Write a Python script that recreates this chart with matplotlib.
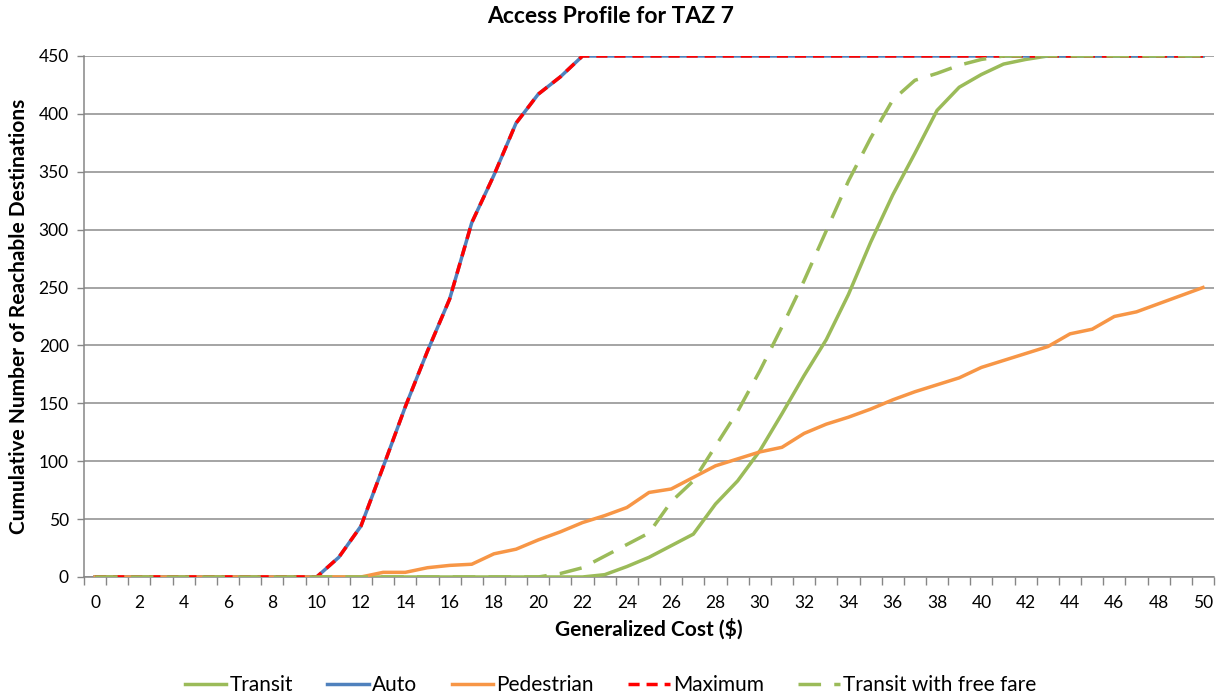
import numpy as np
import matplotlib
matplotlib.use('Agg')
import matplotlib.pyplot as plt

# Data.
cost = list(range(0, 51))
transit = [0]*23 + [2, 9, 17, 27, 37, 63, 83, 109, 141, 174, 205, 244, 289, 330, 366, 403,
                    423, 434, 443, 447] + [450]*8
auto = [0]*11 + [17, 44, 95, 147, 195, 240, 306, 347, 392, 417, 432] + [450]*29
pedestrian = [0]*13 + [4, 4, 8, 10, 11, 20, 24, 32, 39, 47, 53, 60, 73, 76, 86, 96, 102,
                       108, 112, 124, 132, 138, 145, 153, 160, 166, 172, 181, 187, 193,
                       199, 210, 214, 225, 229, 236, 243, 250]
maximum = [max(a, b, c) for a, b, c in zip(transit, auto, pedestrian)]
free_fare = [0]*21 + [3, 8, 18, 28, 38, 65, 83, 113, 143, 178, 216, 256, 299, 342, 379,
                      412, 429, 435, 442, 447] + [450]*10

plt.rcParams['font.family'] = ['Lato', 'DejaVu Sans']

fig = plt.figure(figsize=(12.21, 6.97), dpi=100)
ax = fig.add_axes([0.0688, 0.1722, 0.9255, 0.7475])

green = '#9BBB59'
lw = 2.5
ax.plot(cost, transit, color=green, lw=lw, label='Transit', zorder=3)
ax.plot(cost, auto, color='#4F81BD', lw=lw, label='Auto', zorder=3)
ax.plot(cost, pedestrian, color='#F79646', lw=lw, label='Pedestrian', zorder=3)
ax.plot(cost, maximum, color='#FF0000', lw=lw, ls=(0, (3.2, 2.0)), label='Maximum', zorder=4)
ax.plot(cost, free_fare, color=green, lw=lw, ls=(0, (6.5, 3.8)), label='Transit with free fare', zorder=5)

ax.set_xlim(-0.5, 50.5)
ax.set_ylim(0, 450)
ax.set_yticks(np.arange(0, 451, 50))
ax.set_xticks(np.arange(0, 51, 2))
ax.set_xticks(np.arange(-0.5, 51, 1), minor=True)
ax.tick_params(axis='x', which='major', length=0, pad=13, labelsize=12.5)
ax.tick_params(axis='x', which='minor', length=6, width=1, color='#868686', direction='out')
ax.tick_params(axis='y', length=5, width=1, color='#868686', labelsize=12.5, pad=6)

ax.grid(axis='y', color='#8C8C8C', lw=1.1, zorder=0)
ax.set_axisbelow(True)
for s in ['top', 'right']:
    ax.spines[s].set_visible(False)
ax.spines['left'].set_color('#868686')
ax.spines['bottom'].set_color('#868686')
ax.spines['left'].set_linewidth(1.1)
ax.spines['bottom'].set_linewidth(1.1)

ax.set_xlabel('Generalized Cost (\\$)', fontsize=15, fontweight='bold', labelpad=5)
ax.set_ylabel('Cumulative Number of Reachable Destinations', fontsize=15, fontweight='bold', labelpad=7)
fig.suptitle('Access Profile for TAZ 7', fontsize=16.5, fontweight='bold', y=0.992)

fig.legend(loc='lower center', ncol=5, frameon=False, fontsize=15,
           bbox_to_anchor=(0.5, -0.024), handlelength=2.0, columnspacing=1.65, handletextpad=0.15)

fig.savefig('out.png', dpi=100)
